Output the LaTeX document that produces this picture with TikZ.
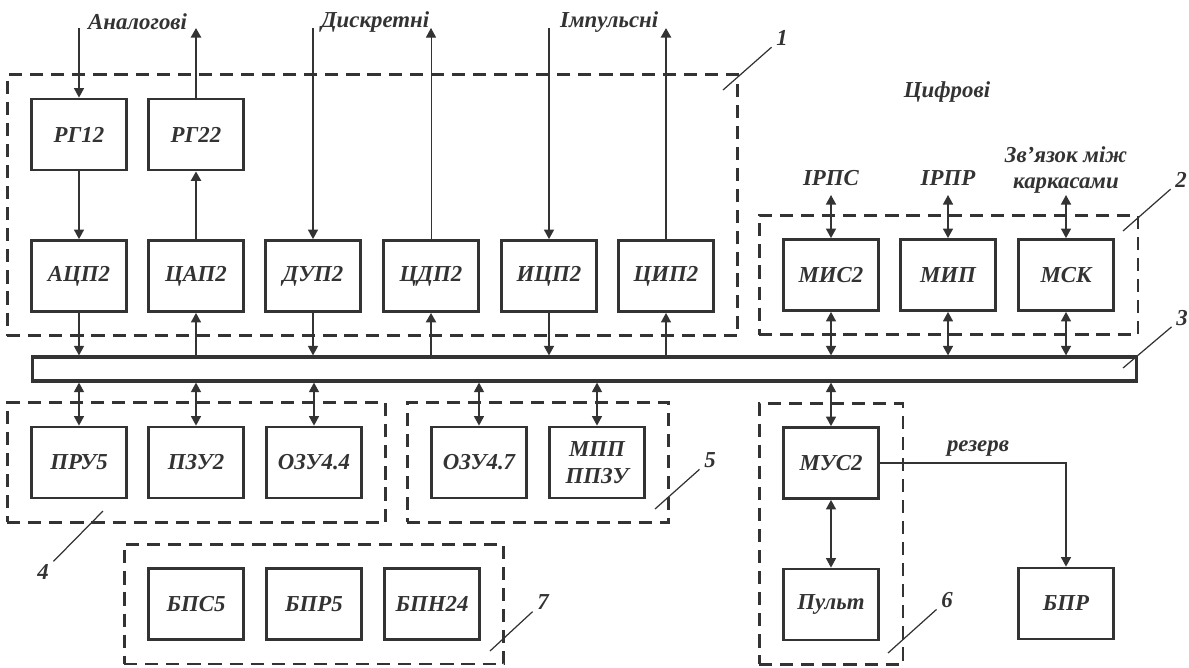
\documentclass[tikz,border=0pt]{standalone}
\usepackage{fontspec}
\setmainfont{Liberation Serif}
\usetikzlibrary{arrows.meta,positioning,fit}
\definecolor{linegray}{RGB}{51,51,51}
\newcommand{\lblfont}{\fontsize{13}{15}\selectfont\bfseries\itshape}

\begin{document}
\begin{tikzpicture}[x=0.02cm,y=-0.02cm,
  blk/.style={draw=linegray,line width=1.6pt,minimum width=1.9cm,minimum height=1.42cm,
    inner sep=0pt,align=center,font=\lblfont,text=linegray},
  grp/.style={draw=linegray,line width=1.6pt,dash pattern=on 7.5pt off 4.5pt,inner sep=0.46cm},
  sig/.style={draw=linegray,line width=0.8pt,-{Triangle[length=0.19cm,width=0.2cm]}},
  boldsig/.style={sig,line width=1.3pt},
  thinsig/.style={sig,line width=0.5pt},
  bisig/.style={draw=linegray,line width=0.8pt,
    {Triangle[length=0.19cm,width=0.2cm]}-{Triangle[length=0.19cm,width=0.2cm]}},
  lead/.style={draw=linegray,line width=0.7pt},
  txt/.style={font=\lblfont,text=linegray,inner sep=1pt,align=center},
  num/.style={txt,inner sep=2.5pt}]
  \useasboundingbox (0,0) rectangle (1189,667);

  % Converters
  \node[blk] (rg12) at (79,134.5) {РГ12};
  \node[blk] (rg22) at (196,134.5) {РГ22};
  \node[blk] (adc) at (79,276) {АЦП2};
  \node[blk] (dac) at (196,276) {ЦАП2};
  \node[blk] (dup) at (313,276) {ДУП2};
  \node[blk] (cdp) at (431,276) {ЦДП2};
  \node[blk] (icp) at (549,276) {ИЦП2};
  \node[blk] (cip) at (666,276) {ЦИП2};
  % Digital interfaces
  \node[blk] (mis) at (831,275) {МИС2};
  \node[blk] (mip) at (948,275) {МИП};
  \node[blk] (msk) at (1066,275) {МСК};
  % Bus
  \node[draw=linegray,line width=1.8pt,minimum width=22.1cm,minimum height=0.48cm,inner sep=0pt]
    (bus) at (584.5,369) {};
  % Memory
  \node[blk] (pru) at (79,462.5) {ПРУ5};
  \node[blk] (pzu) at (196,462.5) {ПЗУ2};
  \node[blk] (ozu44) at (314,462.5) {ОЗУ4.4};
  \node[blk] (ozu47) at (479,462.5) {ОЗУ4.7};
  \node[blk] (mpp) at (597,462.5) {МПП\\ППЗУ};
  % Control
  \node[blk] (mus) at (831,463) {МУС2};
  \node[blk] (pult) at (831,604.5) {Пульт};
  \node[blk] (bpr) at (1066,603.5) {БПР};
  % Power supply
  \node[blk] (bps) at (196,604) {БПС5};
  \node[blk] (bpr5) at (314,604) {БПР5};
  \node[blk] (bpn) at (432,604) {БПН24};

  % Groups
  \node[grp,fit=(rg12)(cip)] (g1) {};
  \node[grp,fit=(mis)(msk)] (g2) {};
  \node[grp,fit=(pru)(ozu44)] (g4) {};
  \node[grp,fit=(ozu47)(mpp)] (g5) {};
  \node[grp,fit=(mus)(pult)] (g6) {};
  \node[grp,fit=(bps)(bpn)] (g7) {};

  % Signal labels
  \node[txt,anchor=west] (lanalog) at (86,22) {Аналогові};
  \node[txt,anchor=west] (ldiscr) at (319,22) {Дискретні};
  \node[txt,anchor=west] (limp) at (558,22) {Імпульсні};
  \node[txt] (ldigit) at (947,92) {Цифрові};
  \node[txt] (lirps) at (831,178) {ІРПС};
  \node[txt] (lirpr) at (948,178) {ІРПР};
  \node[txt] (llink) at (1066,170) {Зв’язок між\\каркасами};
  \node[txt] (lres) at (978,449) {резерв};

  % External lines
  \coordinate (inA) at (79,28);
  \coordinate (outA) at (196,28);
  \coordinate (inD) at (313,28);
  \coordinate (outD) at (431,28);
  \coordinate (inI) at (549,28);
  \coordinate (outI) at (666,28);
  \coordinate (xirps) at (831,195);
  \coordinate (xirpr) at (948,195);
  \coordinate (xlink) at (1066,195);
  \draw[sig] (inA) -- (rg12);
  \draw[boldsig] (rg22) -- (outA);
  \draw[sig] (inD) -- (dup);
  \draw[thinsig] (cdp) -- (outD);
  \draw[sig] (inI) -- (icp);
  \draw[boldsig] (cip) -- (outI);
  \draw[bisig] (xirps) -- (mis);
  \draw[bisig] (xirpr) -- (mip);
  \draw[bisig] (xlink) -- (msk);

  % Inside group 1
  \draw[sig] (rg12) -- (adc);
  \draw[boldsig] (dac) -- (rg22);

  % To and from the bus
  \draw[sig] (adc) -- (adc |- bus.north);
  \draw[sig] (dac |- bus.north) -- (dac);
  \draw[sig] (dup) -- (dup |- bus.north);
  \draw[boldsig] (cdp |- bus.north) -- (cdp);
  \draw[sig] (icp) -- (icp |- bus.north);
  \draw[sig] (cip |- bus.north) -- (cip);
  \draw[bisig] (mis) -- (mis |- bus.north);
  \draw[bisig] (mip) -- (mip |- bus.north);
  \draw[bisig] (msk) -- (msk |- bus.north);
  \draw[bisig] (pru |- bus.south) -- (pru);
  \draw[bisig] (pzu |- bus.south) -- (pzu);
  \draw[bisig] (ozu44 |- bus.south) -- (ozu44);
  \draw[bisig] (ozu47 |- bus.south) -- (ozu47);
  \draw[bisig] (mpp |- bus.south) -- (mpp);
  \draw[bisig] (mus |- bus.south) -- (mus);
  \draw[bisig] (mus) -- (pult);
  \draw[sig] (mus.east) -| (bpr);

  % Numbers
  \node[num] (n1) at (782,38) {1};
  \node[num] (n2) at (1181,180) {2};
  \node[num] (n3) at (1182,318) {3};
  \node[num] (n4) at (43,572) {4};
  \node[num] (n5) at (710,460) {5};
  \node[num] (n6) at (947,600) {6};
  \node[num] (n7) at (543,602) {7};
  \coordinate (l1) at (723,90);
  \coordinate (l2) at (1123,231);
  \coordinate (l3) at (1123,368);
  \coordinate (l4) at (103,511);
  \coordinate (l5) at (655,509);
  \coordinate (l6) at (888,653);
  \coordinate (l7) at (490,651);
  \foreach \i in {1,...,7}
    \draw[lead] (l\i) -- (n\i);
\end{tikzpicture}
\end{document}
